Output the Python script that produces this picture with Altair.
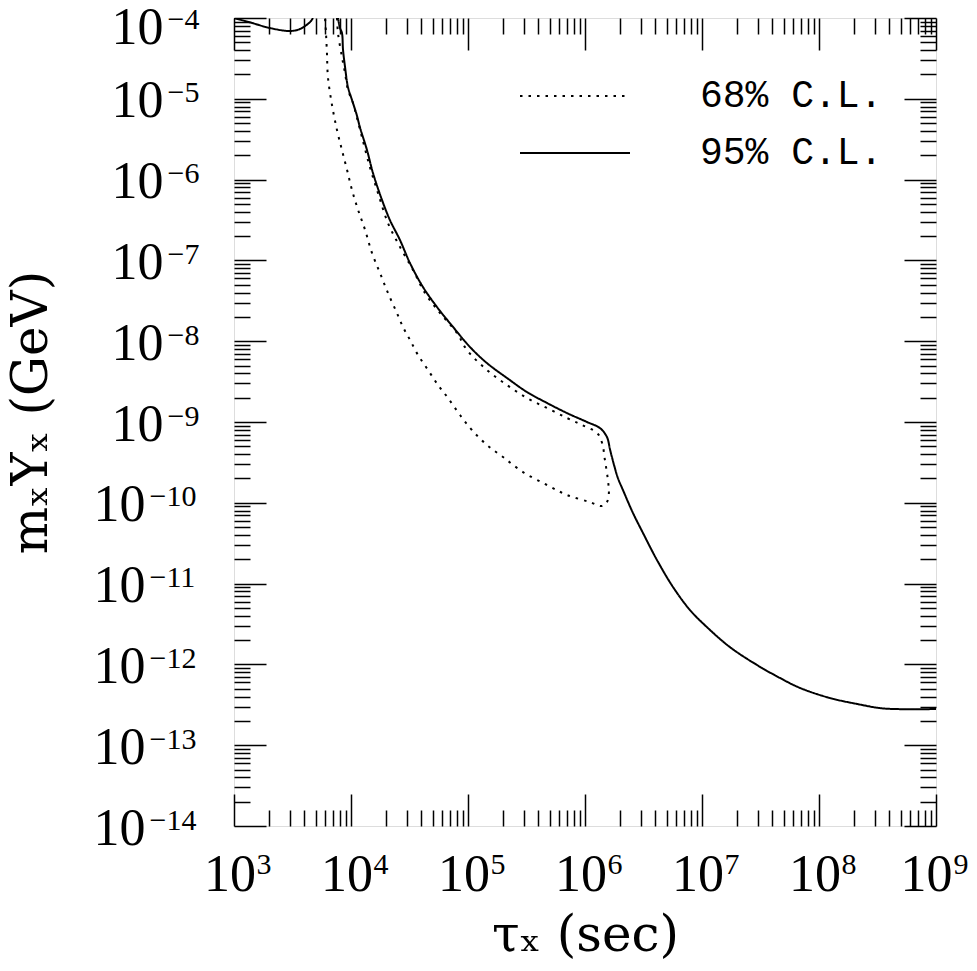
import json
import altair as alt
import pandas as pd

# ---------------- axis ticks / labels ----------------
X_MAJOR = [1e3, 1e4, 1e5, 1e6, 1e7, 1e8, 1e9]
X_EXP_LABELS = ["3", "4", "5", "6", "7", "8", "9"]          # shown as 10^3 ... 10^9
Y_MAJOR = [1e-14, 1e-13, 1e-12, 1e-11, 1e-10, 1e-9, 1e-8, 1e-7, 1e-6, 1e-5, 1e-4]
Y_EXP_LABELS = ["−14", "−13", "−12", "−11", "−10", "−9", "−8", "−7", "−6", "−5", "−4"]
BASE_LABEL = "10"
X_MINOR = [m * 10.0 ** d for d in range(3, 9) for m in range(2, 10)]
Y_MINOR = [m * 10.0 ** d for d in range(-14, -4) for m in range(2, 10)]

X_TITLE = "τₓ (sec)"
Y_TITLE = "mₓYₓ (GeV)"
SERIES = ["68% C.L.", "95% C.L."]

# ---------------- curves ----------------
# 95% C.L., small piece in the upper-left corner
SOLID_A_TAU = [1.0e3, 1.43e3, 2.03e3, 3.01e3, 3.66e3, 4.47e3, 4.73e3]
SOLID_A_MY = [1.0e-4, 8.67e-5, 7.51e-5, 6.90e-5, 7.31e-5, 8.92e-5, 1.0e-4]

# 95% C.L., main curve
SOLID_B_TAU = [7.74e3, 8.05e3, 8.37e3, 8.55e3, 8.89e3, 9.42e3, 1.02e4, 1.12e4,
               1.19e4, 1.37e4, 1.54e4, 1.84e4, 2.15e4, 2.62e4, 3.19e4, 4.12e4,
               5.43e4, 7.45e4, 1.04e5, 1.45e5, 2.15e5, 3.19e5, 4.73e5, 7.02e5,
               1.04e6, 1.34e6, 1.54e6, 1.64e6, 1.77e6, 1.91e6, 2.11e6,
               2.57e6, 3.13e6, 4.12e6, 5.65e6, 7.89e6, 1.10e7, 1.73e7, 2.95e7,
               4.64e7, 6.89e7, 1.24e8, 2.11e8, 3.32e8, 4.64e8, 1.0e9]
SOLID_B_MY = [1.0e-4, 7.51e-5, 6.52e-5, 4.02e-5, 2.48e-5, 1.40e-5, 9.66e-6, 6.31e-6,
              4.48e-6, 2.32e-6, 1.21e-6, 5.60e-7, 3.16e-7, 1.79e-7, 9.29e-8, 4.69e-8,
              2.65e-8, 1.50e-8, 8.47e-9, 5.37e-9, 3.51e-9, 2.35e-9, 1.72e-9, 1.29e-9,
              1.00e-9, 8.43e-10, 6.52e-10, 4.50e-10, 2.94e-10, 2.03e-10, 1.44e-10,
              7.48e-11, 4.23e-11, 1.96e-11, 9.08e-12, 4.71e-12, 2.90e-12, 1.64e-12, 9.83e-13,
              6.79e-13, 5.11e-13, 3.84e-13, 3.24e-13, 2.88e-13, 2.80e-13, 2.80e-13]

# 68% C.L., closed contour (inner edge down, then outer edge back up)
DOTTED_TAU = [7.59e3, 7.74e3, 8.37e3, 8.89e3, 9.42e3, 1.04e4, 1.12e4, 1.24e4,
              1.45e4, 1.70e4, 2.07e4, 2.62e4, 3.39e4, 4.29e4, 5.77e4, 8.05e4,
              9.80e4, 1.45e5, 2.15e5, 3.19e5, 4.73e5, 7.02e5, 9.42e5, 1.27e6,
              1.40e6, 1.48e6, 1.57e6, 1.60e6, 1.54e6, 1.40e6,
              1.10e6, 7.02e5, 4.73e5, 2.95e5, 1.99e5, 1.45e5, 1.08e5, 8.55e4,
              6.75e4, 5.54e4, 4.55e4, 3.74e4, 3.19e4, 2.78e4, 2.47e4, 2.07e4,
              1.77e4, 1.51e4, 1.32e4, 1.15e4, 1.02e4, 9.25e3, 8.37e3, 7.59e3,
              6.88e3, 6.35e3, 6.23e3, 6.11e3, 6.00e3]
DOTTED_MY = [1.0e-4, 6.52e-5, 3.29e-5, 2.09e-5, 1.29e-5, 8.87e-6, 5.96e-6, 3.37e-6,
             1.43e-6, 6.83e-7, 2.90e-7, 1.47e-7, 7.60e-8, 3.95e-8, 2.23e-8, 1.26e-8,
             7.78e-9, 4.41e-9, 2.87e-9, 1.98e-9, 1.49e-9, 1.12e-9, 9.19e-10, 7.31e-10,
             5.50e-10, 3.39e-10, 1.91e-10, 1.32e-10, 1.02e-10, 9.12e-11,
             1.02e-10, 1.25e-10, 1.66e-10, 2.40e-10, 3.69e-10, 5.19e-10, 7.96e-10, 1.22e-9,
             1.98e-9, 2.87e-9, 4.41e-9, 6.75e-9, 1.04e-8, 1.50e-8, 2.23e-8, 3.95e-8,
             6.98e-8, 1.24e-7, 2.38e-7, 4.21e-7, 7.43e-7, 1.32e-6, 2.32e-6, 4.11e-6,
             8.38e-6, 1.86e-5, 3.69e-5, 6.52e-5, 1.0e-4]

rows = []
for piece, series, taus, mys in [("a", SERIES[1], SOLID_A_TAU, SOLID_A_MY),
                                 ("b", SERIES[1], SOLID_B_TAU, SOLID_B_MY),
                                 ("c", SERIES[0], DOTTED_TAU, DOTTED_MY)]:
    for i, (t, m) in enumerate(zip(taus, mys)):
        rows.append({"tau": t, "my": m, "series": series, "piece": piece, "i": i})
df = pd.DataFrame(rows)

SERIF = "Liberation Serif"
TITLE_FONT = "DejaVu Serif"
MONO = "Liberation Mono"
BASE_SIZE = 52
EXP_SIZE = 30

xscale = alt.Scale(type="log", domain=[1e3, 1e9], nice=False)
yscale = alt.Scale(type="log", domain=[1e-14, 1e-4], nice=False)

x_exp_expr = "%s[round(log(datum.value)/LN10)-3]" % json.dumps(X_EXP_LABELS, ensure_ascii=False)
y_exp_expr = "%s[round(log(datum.value)/LN10)+14]" % json.dumps(Y_EXP_LABELS, ensure_ascii=False)
base_expr = "'%s'" % BASE_LABEL

MAJ = 32
MIN = 16
common = dict(domain=False, grid=False, labelOverlap=False, labelFlush=False,
              labelBound=False, labelColor="black")


def tick_axis(orient, values, size):
    return alt.Axis(orient=orient, values=values, tickSize=size, offset=-size,
                    tickColor="black", tickWidth=1.5,
                    labels=False, title=None, **common)


def label_axis(orient, values, expr, size, pad, align, loff, **kw):
    kw.setdefault("title", None)
    return alt.Axis(orient=orient, values=values, ticks=False, tickSize=0, offset=0,
                    labelExpr=expr, labelFont=SERIF, labelFontSize=size,
                    labelPadding=pad, labelAlign=align, labelBaseline="alphabetic",
                    labelOffset=loff, **common, **kw)


title_x = dict(title=X_TITLE, titleFont=TITLE_FONT, titleFontSize=50,
               titleFontWeight="normal", titleColor="black", titleX=351, titleY=124,
               titleAlign="center", titleBaseline="alphabetic", titleAngle=0)
title_y = dict(title=Y_TITLE, titleFont=TITLE_FONT, titleFontSize=50,
               titleFontWeight="normal", titleColor="black", titleX=-188, titleY=394,
               titleAlign="center", titleBaseline="alphabetic", titleAngle=-90)

X_IN = X_MAJOR[:-1]                                   # labels well inside the frame
X_EDGE = X_MAJOR[-1:]                                 # label at the right edge
Y_ONE = [v for v in Y_MAJOR if 5e-10 < v < 5e-5]      # one-digit exponents
Y_TWO = [v for v in Y_MAJOR if v < 5e-10]             # two-digit exponents
Y_EDGE = Y_MAJOR[-1:]                                 # label at the top edge

x_axes = [
    tick_axis("bottom", X_MAJOR, MAJ),
    label_axis("bottom", X_IN, base_expr, BASE_SIZE, 64, "center", -4.5, **title_x),
    label_axis("bottom", X_IN, x_exp_expr, EXP_SIZE, 47, "left", 22),
    label_axis("bottom", X_EDGE, base_expr, BASE_SIZE, 64, "center", -10),
    label_axis("bottom", X_EDGE, x_exp_expr, EXP_SIZE, 47, "left", 17),
    tick_axis("bottom", X_MINOR, MIN),
    tick_axis("top", X_MAJOR, MAJ),
    tick_axis("top", X_MINOR, MIN),
]
y_axes = [
    tick_axis("left", Y_MAJOR, MAJ),
    label_axis("left", Y_ONE, base_expr, BASE_SIZE, 71, "right", 18, **title_y),
    label_axis("left", Y_TWO, base_expr, BASE_SIZE, 89, "right", 18),
    label_axis("left", Y_ONE, y_exp_expr, EXP_SIZE, 67, "left", 3),
    label_axis("left", Y_TWO, y_exp_expr, EXP_SIZE, 85, "left", 3),
    label_axis("left", Y_EDGE, base_expr, BASE_SIZE, 71, "right", 25),
    label_axis("left", Y_EDGE, y_exp_expr, EXP_SIZE, 67, "left", 10),
    tick_axis("left", Y_MINOR, MIN),
    tick_axis("right", Y_MAJOR, MAJ),
    tick_axis("right", Y_MINOR, MIN),
]

line = alt.Chart(df).mark_line(clip=True, color="black", strokeWidth=2,
                               interpolate="catmull-rom")

legend = alt.Legend(orient="none", legendX=318, legendY=55, title=None,
                    symbolType="M-2.5,0L2.5,0", symbolSize=1936,
                    symbolStrokeWidth=2, symbolStrokeColor="black",
                    symbolFillColor="transparent",
                    labelFont=MONO, labelFontSize=38, labelColor="black",
                    labelOffset=102, labelLimit=0, rowPadding=15, padding=0)

layers = []
n = max(len(x_axes), len(y_axes))
for k in range(n):
    xa = x_axes[k] if k < len(x_axes) else None
    ya = y_axes[k] if k < len(y_axes) else None
    enc = dict(
        x=alt.X("tau:Q", scale=xscale, axis=xa),
        y=alt.Y("my:Q", scale=yscale, axis=ya),
        detail="piece:N",
        order="i:Q",
    )
    if k == 0:
        enc["strokeDash"] = alt.StrokeDash(
            "series:N", scale=alt.Scale(domain=SERIES, range=[[2.5, 6], [1, 0]]),
            legend=legend)
        layers.append(line.encode(**enc))
    else:
        layers.append(line.mark_line(opacity=0).encode(**enc))

chart = (
    alt.layer(*layers)
    .resolve_axis(x="independent", y="independent")
    .properties(width=702, height=808,
                autosize=alt.AutoSizeParams(type="none"),
                padding={"left": 226, "top": 10, "right": 33, "bottom": 137})
    .configure_view(stroke="black", strokeWidth=2)
    .configure(background="white")
)

chart.save("out.html", embed_options={"renderer": "svg", "actions": False})
